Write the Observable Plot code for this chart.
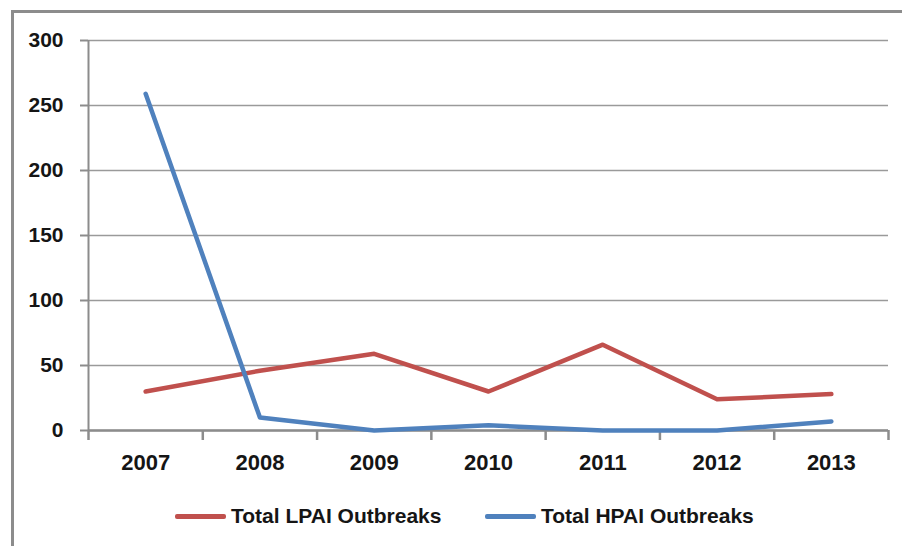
<!DOCTYPE html>
<html>
<head>
<meta charset="utf-8">
<script src="https://cdn.jsdelivr.net/npm/d3@7"></script>
<script src="https://cdn.jsdelivr.net/npm/@observablehq/plot@0.6"></script>
<style>
  html, body { margin: 0; padding: 0; background: #fff; }
  #wrap { position: relative; width: 902px; height: 546px; overflow: hidden; background: #fff; }
  #frame { position: absolute; left: 11px; top: 10px; width: 1000px; height: 1000px;
           border-left: 3px solid #8c8c8c; border-top: 3px solid #8c8c8c; box-sizing: border-box; }
  #chart { position: absolute; left: 0; top: 0; }
  .leg { position: absolute; top: 504px; display: flex; align-items: center;
         font-family: "Liberation Sans", Arial, sans-serif; font-weight: bold; font-size: 21px; color: #151515; }
  .sw { width: 51px; height: 5px; border-radius: 2px; margin-right: 5px; }
</style>
</head>
<body>
<div id="wrap">
  <div id="frame"></div>
  <div id="chart"></div>
  <div class="leg" style="left:175px"><div class="sw" style="background:#c0504d"></div><span>Total LPAI Outbreaks</span></div>
  <div class="leg" style="left:485px"><div class="sw" style="background:#4f81bd"></div><span>Total HPAI Outbreaks</span></div>
</div>
<script>
const years = ["2007", "2008", "2009", "2010", "2011", "2012", "2013"];
const lpai = [30, 46, 59, 30, 66, 24, 28];
const hpai = [259, 10, 0, 4, 0, 0, 7];
const yTicks = [0, 50, 100, 150, 200, 250, 300];
const seriesNames = ["Total LPAI Outbreaks", "Total HPAI Outbreaks"];
const seriesColors = ["#c0504d", "#4f81bd"];

const rows = [];
years.forEach((y, i) => {
  rows.push({i, year: y, series: seriesNames[0], v: lpai[i]});
  rows.push({i, year: y, series: seriesNames[1], v: hpai[i]});
});
const idx = years.map((_, i) => i);
const bounds = years.map((_, i) => i - 0.5).concat([years.length - 0.5]);

const fam = "Liberation Sans, Arial, sans-serif";

const chart = Plot.plot({
  width: 902,
  height: 490,
  marginLeft: 88,
  marginRight: 14,
  marginTop: 40,
  marginBottom: 60,
  style: {background: "transparent", color: "#151515", fontFamily: fam},
  x: {type: "linear", domain: [-0.5, years.length - 0.5]},
  y: {domain: [0, 300]},
  color: {domain: seriesNames, range: seriesColors},
  marks: [
    Plot.gridY(yTicks, {stroke: "#9a9a9a", strokeOpacity: 1, strokeWidth: 1.3}),
    Plot.axisY({ticks: yTicks, tickSize: 8, tickPadding: 17, stroke: "#8c8c8c", strokeWidth: 2,
                fontSize: 21, fontWeight: "bold", fill: "#151515", label: null}),
    Plot.ruleX([-0.5], {stroke: "#8c8c8c", strokeWidth: 2}),
    Plot.axisX({ticks: bounds, tickSize: 10, tickFormat: () => "", stroke: "#8c8c8c", strokeWidth: 2.5, label: null}),
    Plot.axisX({ticks: idx, tickSize: 0, tickPadding: 24, tickFormat: i => years[i],
                fontSize: 22, fontWeight: "bold", fill: "#151515", label: null}),
    Plot.ruleY([0], {stroke: "#8c8c8c", strokeWidth: 2.5}),
    Plot.line(rows, {x: "i", y: "v", z: "series", stroke: "series", strokeWidth: 4.5,
                     strokeLinejoin: "round", strokeLinecap: "round"})
  ]
});
document.getElementById("chart").appendChild(chart);
</script>
</body>
</html>
